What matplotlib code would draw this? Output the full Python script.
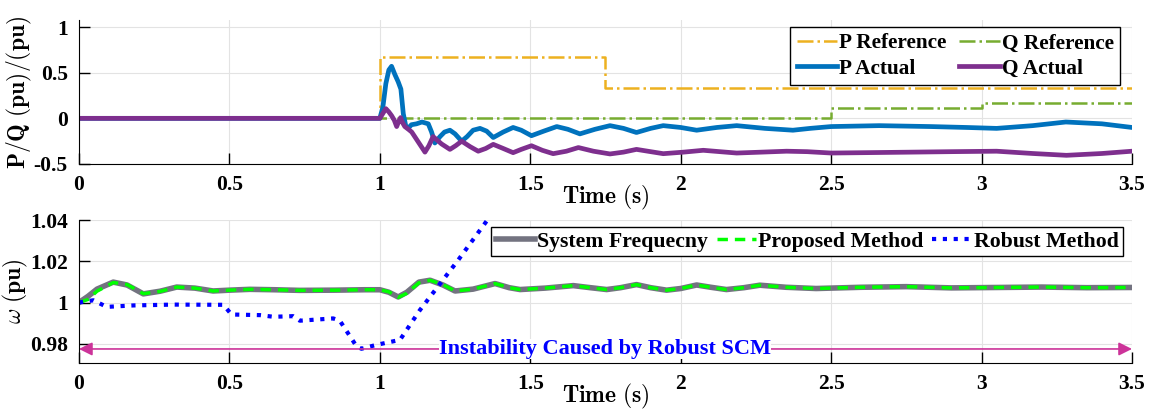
import matplotlib
matplotlib.use('Agg')
import matplotlib.pyplot as plt

# ---- data ----
# top panel: power references (step changes)
t_pref = [0, 1.0, 1.75, 3.5]
p_ref = [0, 0.667, 0.333, 0.333]
t_qref = [0, 2.5, 3.0, 3.5]
q_ref = [0, 0.11, 0.165, 0.165]

# top panel: actual P
t_p = [0, 1.0, 1.01, 1.02, 1.03, 1.039, 1.05, 1.061, 1.07, 1.078, 1.086, 1.094,
       1.105, 1.122, 1.14, 1.161, 1.172, 1.183, 1.2, 1.215, 1.233, 1.25, 1.272,
       1.29, 1.31, 1.333, 1.355, 1.377, 1.41, 1.443, 1.47, 1.504, 1.545, 1.588,
       1.625, 1.665, 1.715, 1.765, 1.81, 1.853, 1.9, 1.942, 2.0, 2.053, 2.12,
       2.186, 2.28, 2.373, 2.43, 2.5, 2.66, 2.83, 2.95, 3.05, 3.17, 3.28, 3.4, 3.5]
p_act = [0, 0, 0.12, 0.38, 0.53, 0.57, 0.48, 0.40, 0.32, 0.05, -0.08, -0.11,
         -0.07, -0.06, -0.04, -0.06, -0.15, -0.27, -0.2, -0.15, -0.13, -0.17, -0.25,
         -0.2, -0.13, -0.11, -0.14, -0.21, -0.15, -0.10, -0.13, -0.19, -0.14, -0.09,
         -0.12, -0.17, -0.12, -0.08, -0.11, -0.155, -0.11, -0.08, -0.10, -0.13, -0.10,
         -0.08, -0.11, -0.13, -0.11, -0.09, -0.08, -0.09, -0.10, -0.11, -0.08, -0.04, -0.06, -0.10]

# top panel: actual Q
t_q = [0, 1.0, 1.02, 1.03, 1.039, 1.048, 1.056, 1.062, 1.069, 1.076, 1.083, 1.095,
       1.106, 1.13, 1.15, 1.163, 1.177, 1.205, 1.233, 1.252, 1.272, 1.3, 1.327,
       1.352, 1.377, 1.41, 1.443, 1.47, 1.504, 1.54, 1.576, 1.62, 1.66, 1.71, 1.765,
       1.81, 1.853, 1.9, 1.942, 2.01, 2.075, 2.13, 2.186, 2.27, 2.352, 2.42, 2.5,
       2.64, 2.773, 2.9, 3.05, 3.17, 3.282, 3.4, 3.5]
q_act = [0, 0, 0.106, 0.07, 0.03, -0.02, -0.09, -0.04, 0.008, -0.05, -0.09, -0.12,
         -0.15, -0.27, -0.37, -0.30, -0.20, -0.28, -0.34, -0.30, -0.25, -0.31, -0.36,
         -0.33, -0.285, -0.33, -0.376, -0.34, -0.30, -0.35, -0.387, -0.36, -0.32, -0.36, -0.39,
         -0.37, -0.34, -0.365, -0.387, -0.37, -0.35, -0.365, -0.38, -0.37, -0.36, -0.365, -0.38,
         -0.375, -0.37, -0.365, -0.36, -0.385, -0.405, -0.385, -0.36]

# bottom panel: frequency
t_w = [0, 0.03, 0.06, 0.114, 0.16, 0.214, 0.27, 0.325, 0.385, 0.446, 0.5, 0.568,
       0.65, 0.734, 0.85, 0.95, 1.0, 1.03, 1.061, 1.09, 1.13, 1.167, 1.21, 1.25,
       1.31, 1.383, 1.43, 1.466, 1.55, 1.643, 1.70, 1.754, 1.80, 1.853, 1.90, 1.953,
       2.0, 2.053, 2.10, 2.152, 2.21, 2.263, 2.35, 2.45, 2.6, 2.75, 2.9, 3.05, 3.2, 3.35, 3.5]
w_sys = [1.0, 1.003, 1.0065, 1.0099, 1.0085, 1.0042, 1.0055, 1.0075, 1.007, 1.0056,
         1.006, 1.0064, 1.0062, 1.0059, 1.006, 1.0062, 1.0062, 1.005, 1.0027, 1.005,
         1.0099, 1.0108, 1.0085, 1.0056, 1.0065, 1.0092, 1.0072, 1.0063, 1.007, 1.0082,
         1.0072, 1.0063, 1.0072, 1.0087, 1.0072, 1.006, 1.0068, 1.0085, 1.0074, 1.0063,
         1.0072, 1.0084, 1.0074, 1.0068, 1.0074, 1.0077, 1.0071, 1.0073, 1.0075, 1.0072, 1.0073]
w_prop = [1.0, 1.0015, 1.0055, 1.0097, 1.0087, 1.0043, 1.0054, 1.0075, 1.007, 1.0056,
          1.006, 1.0064, 1.0062, 1.0059, 1.006, 1.0062, 1.0062, 1.0052, 1.0025, 1.0045,
          1.0096, 1.0108, 1.0087, 1.0056, 1.0065, 1.0092, 1.0072, 1.0063, 1.007, 1.0082,
          1.0072, 1.0063, 1.0072, 1.0087, 1.0072, 1.006, 1.0068, 1.0085, 1.0074, 1.0063,
          1.0072, 1.0084, 1.0074, 1.0068, 1.0074, 1.0077, 1.0071, 1.0073, 1.0075, 1.0072, 1.0073]

t_rob = [0, 0.048, 0.092, 0.181, 0.314, 0.48, 0.507, 0.602, 0.646, 0.712, 0.734,
         0.845, 0.867, 0.923, 0.939, 0.989, 1.067, 1.133, 1.26, 1.355, 1.40]
w_rob = [1.0, 1.0011, 0.9979, 0.9986, 0.999, 0.9989, 0.9942, 0.9939, 0.9931, 0.9934,
         0.9912, 0.9923, 0.9912, 0.9787, 0.9776, 0.9795, 0.9819, 0.9963, 1.0205, 1.0395, 1.049]

plt.rcParams['font.family'] = ['Liberation Serif', 'DejaVu Serif']
plt.rcParams['font.weight'] = 'bold'
plt.rcParams['mathtext.fontset'] = 'cm'

fig = plt.figure(figsize=(11.51, 4.11), dpi=100)
ax1 = fig.add_axes([0.0686, 0.601, 0.9149, 0.3503])
ax2 = fig.add_axes([0.0686, 0.1168, 0.9149, 0.3479])

# top panel
h_pr, = ax1.plot(t_pref, p_ref, color='#EDB120', ls='-.', lw=1.8, drawstyle='steps-post', label='P Reference')
h_qr, = ax1.plot(t_qref, q_ref, color='#77AC30', ls='-.', lw=1.8, drawstyle='steps-post', label='Q Reference')
h_pa, = ax1.plot(t_p, p_act, color='#0072BD', lw=3.4, label='P Actual')
h_qa, = ax1.plot(t_q, q_act, color='#7E2F8E', lw=3.4, label='Q Actual')
ax1.set_xlim(0, 3.5)
ax1.set_ylim(-0.5, 1.077)
ax1.set_yticks([-0.5, 0, 0.5, 1])
ax1.set_yticklabels(['-0.5', '0', '0.5', '1'])
ax1.legend(handles=[h_pr, h_pa, h_qr, h_qa], loc='upper right', ncol=2,
           bbox_to_anchor=(0.9886, 0.951), borderaxespad=0, fontsize=15.3,
           frameon=True, fancybox=False, edgecolor='black', framealpha=1,
           handlelength=1.9, handletextpad=0.1, columnspacing=0.6, borderpad=0.3,
           labelspacing=0.25)
ax1.set_ylabel(r'$\mathbf{P/Q\ (pu)/(pu)}$', fontsize=17, labelpad=0)

# bottom panel
ax2.plot(t_w, w_sys, color='#737380', lw=4, label='System Frequecny')
ax2.plot(t_w, w_prop, color='#00FF00', ls=(0, (3, 2)), lw=2.5, label='Proposed Method')
ax2.plot(t_rob, w_rob, color='#0000FF', ls=(0, (1, 1.6)), lw=3, label='Robust Method')
ax2.set_xlim(0, 3.5)
ax2.set_ylim(0.9707, 1.04)
ax2.set_yticks([0.98, 1.0, 1.02, 1.04])
ax2.set_yticklabels(['0.98', '1', '1.02', '1.04'])
ax2.legend(loc='upper right', ncol=3, bbox_to_anchor=(0.9915, 0.951), borderaxespad=0,
           fontsize=15.7, frameon=True, fancybox=False, edgecolor='black', framealpha=1,
           handlelength=1.8, handletextpad=0.1, columnspacing=0.4, borderpad=0.2)
ax2.set_ylabel(r'$\omega\ \mathbf{(pu)}$', fontsize=17, labelpad=0)

ax2.annotate('', xy=(0.0, 0.9775), xytext=(3.5, 0.9775),
             arrowprops=dict(arrowstyle='<|-|>', color='#CC3399', lw=1.2,
                             mutation_scale=20, shrinkA=0, shrinkB=0))
ax2.text(1.75, 0.9775, 'Instability Caused by Robust SCM', color='#0000FF',
         fontsize=16, fontweight='bold', ha='center', va='center',
         bbox=dict(facecolor='white', edgecolor='none', pad=0))

for ax in (ax1, ax2):
    ax.set_xticks([0, 0.5, 1, 1.5, 2, 2.5, 3, 3.5])
    ax.set_xticklabels(['0', '0.5', '1', '1.5', '2', '2.5', '3', '3.5'])
    ax.grid(True, color='#e3e3e3', lw=0.8)
    ax.set_axisbelow(True)
    ax.spines['top'].set_visible(False)
    ax.spines['right'].set_visible(False)
    ax.tick_params(direction='in', length=8, width=1, labelsize=15.5, pad=8)
    ax.set_xlabel(r'$\mathbf{Time\ (s)}$', fontsize=17, labelpad=-9)

fig.savefig('out.png', dpi=100)
